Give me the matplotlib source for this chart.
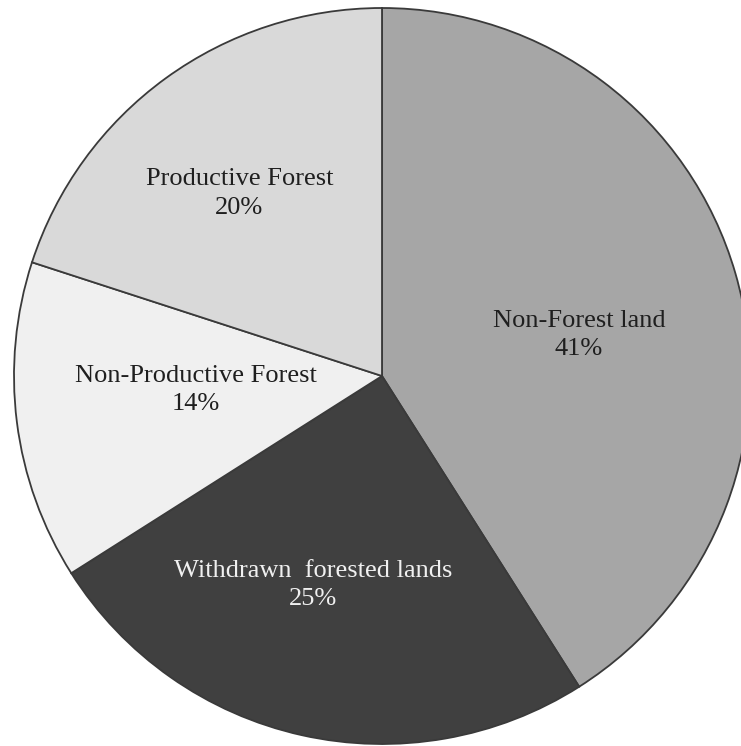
import matplotlib
matplotlib.use("Agg")
import matplotlib.pyplot as plt
import numpy as np

categories = ["Non-Forest land", "Withdrawn  forested lands",
              "Non-Productive Forest", "Productive Forest"]
shares = [41, 25, 14, 20]

colors = ["#a6a6a6", "#404040", "#f0f0f0", "#d9d9d9"]
text_colors = ["#1f1f1f", "#f0f0f0", "#1f1f1f", "#1f1f1f"]
# radial fraction and angular nudge (degrees) for each label
label_place = [(0.547, -4.4), (0.598, -5.7), (0.507, -2.9), (0.63, 2.0)]

W, H = 741, 746
fig = plt.figure(figsize=(W / 100, H / 100), dpi=100)
ax = fig.add_axes([0, 0, 1, 1])

cx, cy, r = 382, H - 376, 368
wedges, _ = ax.pie(shares, colors=colors, startangle=90, counterclock=False,
                   center=(cx, cy), radius=r, frame=True,
                   wedgeprops=dict(edgecolor="#3a3a3a", linewidth=1.3))
ax.set_xlim(0, W)
ax.set_ylim(0, H)
ax.axis("off")

for w, name, val, tc, (frac, nudge) in zip(wedges, categories, shares,
                                           text_colors, label_place):
    mid = np.deg2rad((w.theta1 + w.theta2) / 2 + nudge)
    x = cx + frac * r * np.cos(mid)
    y = cy + frac * r * np.sin(mid)
    ax.text(x, y, f"{name}\n{val}%", ha="center", va="center",
            fontsize=19, family="Liberation Serif", color=tc,
            linespacing=1.38)

fig.savefig("out.png", dpi=100, facecolor="white")
